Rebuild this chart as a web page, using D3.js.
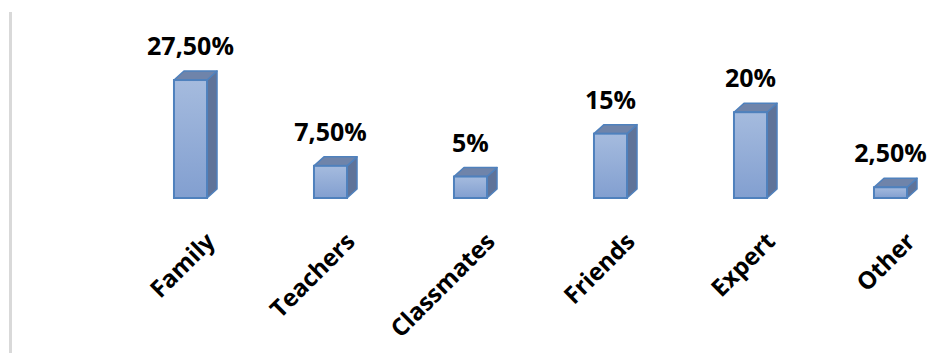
<!DOCTYPE html>
<html>
<head>
<meta charset="utf-8">
<script src="https://cdn.jsdelivr.net/npm/d3@7"></script>
<style>
  body { margin: 0; background: #fff; }
  .val, .cat { font-family: "Open Sans", sans-serif; font-weight: bold; fill: #000; }
</style>
</head>
<body>
<div id="chart"></div>
<script>
var categories = ["Family", "Teachers", "Classmates", "Friends", "Expert", "Other"];
var values = [27.5, 7.5, 5, 15, 20, 2.5];
var valueLabels = ["27,50%", "7,50%", "5%", "15%", "20%", "2,50%"];

var width = 929, height = 353;
var depthX = 10, depthY = 9;
var baseY = 198;

var svg = d3.select("#chart").append("svg")
    .attr("width", width)
    .attr("height", height);

// left frame line
svg.append("rect")
    .attr("x", 9).attr("y", 12)
    .attr("width", 3).attr("height", height - 12)
    .attr("fill", "#d9d9d9");

var defs = svg.append("defs");
var grad = defs.append("linearGradient")
    .attr("id", "front").attr("x1", 0).attr("y1", 0).attr("x2", 0).attr("y2", 1);
grad.append("stop").attr("offset", "0%").attr("stop-color", "#a5bbde");
grad.append("stop").attr("offset", "100%").attr("stop-color", "#829fd0");

var xScale = d3.scaleBand()
    .domain(categories)
    .range([120.5, 960.5])
    .paddingInner(0.764)
    .paddingOuter(0.382);

var yScale = d3.scaleLinear()
    .domain([0, 30])
    .range([baseY, baseY - 128.7]);

var bw = xScale.bandwidth();

var bars = svg.append("g").selectAll("g")
    .data(values)
    .enter()
    .append("g");

// side face
bars.append("polygon")
    .attr("points", function(d, i) {
      var x = xScale(categories[i]) + bw, t = yScale(d);
      return [[x, t], [x + depthX, t - depthY], [x + depthX, baseY - depthY], [x, baseY]].join(" ");
    })
    .attr("fill", "#5f7399")
    .attr("stroke", "#4f81bd")
    .attr("stroke-width", 1.5)
    .attr("stroke-linejoin", "round");

// top face
bars.append("polygon")
    .attr("points", function(d, i) {
      var x = xScale(categories[i]), t = yScale(d);
      return [[x, t], [x + depthX, t - depthY], [x + bw + depthX, t - depthY], [x + bw, t]].join(" ");
    })
    .attr("fill", "#6f84aa")
    .attr("stroke", "#4f81bd")
    .attr("stroke-width", 1.5)
    .attr("stroke-linejoin", "round");

// front face
bars.append("rect")
    .attr("x", function(d, i) { return xScale(categories[i]); })
    .attr("y", function(d) { return yScale(d); })
    .attr("width", bw)
    .attr("height", function(d) { return baseY - yScale(d); })
    .attr("fill", "url(#front)")
    .attr("stroke", "#4f81bd")
    .attr("stroke-width", 2);

// value labels
svg.append("g").selectAll("text")
    .data(values)
    .enter()
    .append("text")
    .attr("class", "val")
    .attr("x", function(d, i) { return xScale(categories[i]) + bw / 2; })
    .attr("y", function(d) { return yScale(d) - depthY - 16; })
    .attr("text-anchor", "middle")
    .style("font-size", "25px")
    .text(function(d, i) { return valueLabels[i]; });

// category labels
svg.append("g").selectAll("text")
    .data(categories)
    .enter()
    .append("text")
    .attr("class", "cat")
    .attr("text-anchor", "end")
    .attr("transform", function(d) {
      return "translate(" + (xScale(d) + bw / 2 + 26) + "," + 243 + ")rotate(-45)";
    })
    .style("font-size", "24px")
    .text(function(d) { return d; });
</script>
</body>
</html>
